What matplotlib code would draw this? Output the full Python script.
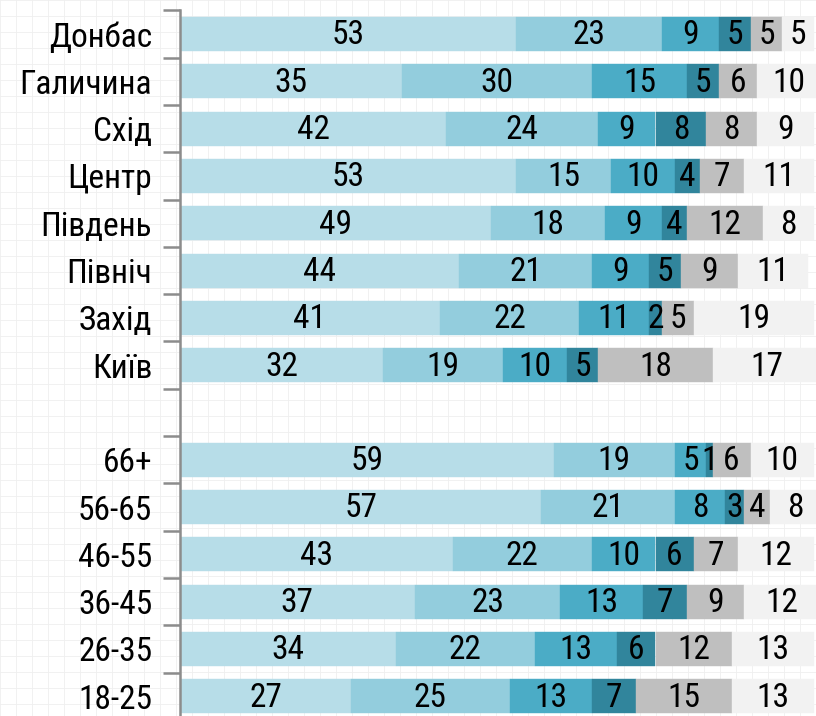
import matplotlib
matplotlib.use('Agg')
import matplotlib.pyplot as plt
import numpy as np

# категорії (зверху вниз), порожній рядок — розрив між групами
categories = ['Донбас', 'Галичина', 'Схід', 'Центр', 'Південь', 'Північ', 'Захід', 'Київ',
              '', '66+', '56-65', '46-55', '36-45', '26-35', '18-25']

s1 = [53, 35, 42, 53, 49, 44, 41, 32, 0, 59, 57, 43, 37, 34, 27]
s2 = [23, 30, 24, 15, 18, 21, 22, 19, 0, 19, 21, 22, 23, 22, 25]
s3 = [9, 15, 9, 10, 9, 9, 11, 10, 0, 5, 8, 10, 13, 13, 13]
s4 = [5, 5, 8, 4, 4, 5, 2, 5, 0, 1, 3, 6, 7, 6, 7]
s5 = [5, 6, 8, 7, 12, 9, 5, 18, 0, 6, 4, 7, 9, 12, 15]
s6 = [5, 10, 9, 11, 8, 11, 19, 17, 0, 10, 8, 12, 12, 13, 13]

series = [s1, s2, s3, s4, s5, s6]
colors = ['#b7dde8', '#93cddd', '#4bacc6', '#31859c', '#bfbfbf', '#f2f2f2']

plt.rcParams['font.family'] = ['Roboto Condensed', 'DejaVu Sans']

W, H = 816, 716
fig = plt.figure(figsize=(W / 100, H / 100), dpi=100)
fig.patch.set_facecolor('white')

# фон з легкою "паперовою" сіткою
bg = fig.add_axes([0, 0, 1, 1], zorder=-1)
bg.set_xlim(0, W)
bg.set_ylim(H, 0)
for x in np.arange(0, W, 16):
    bg.axvline(x, color='#efefef', lw=0.6)
for y in np.arange(0, H, 16):
    bg.axhline(y, color='#efefef', lw=0.6)
bg.axis('off')

step = 47.3
top = 10.4
n = len(categories)
ax_h = n * step
ax = fig.add_axes([180 / W, (H - top - ax_h) / H, (W - 180) / W, ax_h / H])
ax.patch.set_alpha(0)

y = np.arange(n)
left = np.zeros(n)
for vals, c in zip(series, colors):
    vals = np.array(vals, dtype=float)
    ax.barh(y, vals, left=left, height=0.72, color=c, edgecolor=c, linewidth=0.3)
    for i in range(n):
        if vals[i] > 0:
            ax.text(left[i] + vals[i] / 2, y[i] + 0.03, str(int(vals[i])),
                    ha='center', va='center', fontsize=24, color='black')
    left += vals

ax.set_xlim(0, (W - 180) / 6.34)
ax.set_ylim(n - 0.5, -0.5)
ax.set_xticks([])
ax.set_yticks(np.arange(n + 1) - 0.5)
ax.set_yticklabels([])
ax.set_yticks(y, minor=True)
ax.set_yticklabels(categories, minor=True, fontsize=24)
ax.tick_params(axis='y', which='minor', length=0, pad=20)
ax.tick_params(axis='y', which='major', length=12, width=1.8, color='#8c8c8c')
for s in ['top', 'right', 'bottom']:
    ax.spines[s].set_visible(False)
ax.spines['left'].set_color('#8c8c8c')
ax.spines['left'].set_linewidth(1.8)

fig.savefig('out.png', dpi=100)
